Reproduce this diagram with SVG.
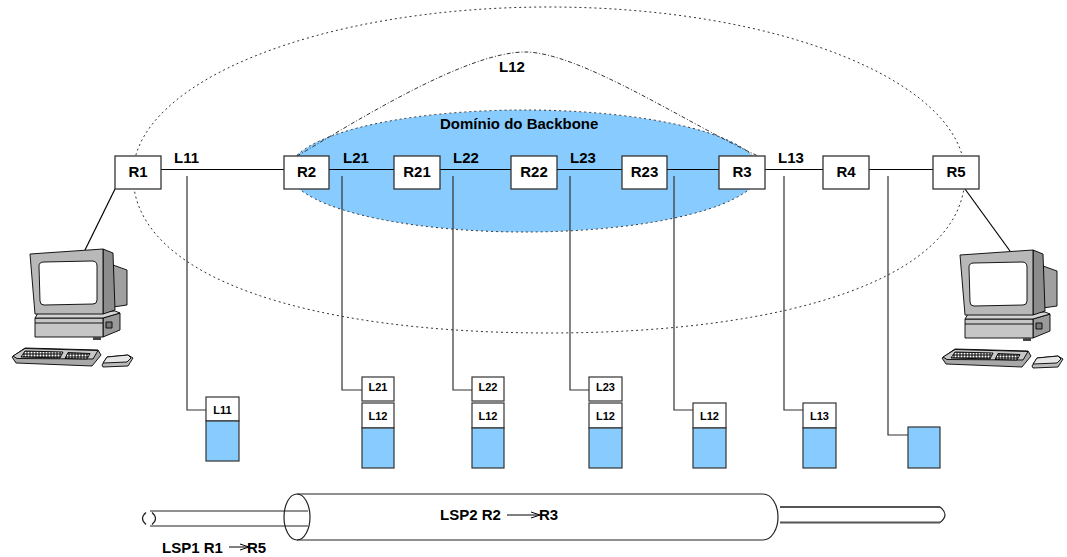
<svg xmlns="http://www.w3.org/2000/svg" width="1067" height="557" viewBox="0 0 1067 557">
  <style>
    .lbl { font-family: "Liberation Sans", Arial, sans-serif; font-weight: bold; font-size: 15px; fill: #000; }
    .tag { font-family: "Liberation Sans", Arial, sans-serif; font-weight: bold; font-size: 11px; fill: #000; text-anchor: middle; }
    .mid { text-anchor: middle; }
    .router { fill: #fff; stroke: #333; stroke-width: 1.3; }
    .link { fill: none; stroke: #000; stroke-width: 1.2; }
    .drop { fill: none; stroke: #333; stroke-width: 1.2; }
    .hdr { fill: #fff; stroke: #333; stroke-width: 1.2; }
    .payload { fill: #88ccff; stroke: #333; stroke-width: 1.2; }
    .dotted { fill: none; stroke: #333; stroke-width: 1; stroke-dasharray: 2 3; }
    .dashdot { fill: none; stroke: #333; stroke-width: 1; stroke-dasharray: 4 2 1 2; }
    .tube { fill: none; stroke: #222; stroke-width: 1.2; }
    .thin { fill: none; stroke: #555; stroke-width: 1.8; }
    .pc { stroke: #000; stroke-width: 0.9; stroke-linejoin: round; }
  </style>
  <defs>
    <marker id="head" markerWidth="10" markerHeight="8" refX="9" refY="4" orient="auto" markerUnits="userSpaceOnUse">
      <path d="M0,1 L9,4 L0,7" fill="none" stroke="#000" stroke-width="1"/>
    </marker>
    <pattern id="keys" width="3" height="3" patternUnits="userSpaceOnUse">
      <rect width="3" height="3" fill="#000"/>
      <rect x="0.5" y="0.5" width="2" height="2" fill="#fff"/>
    </pattern>
    <!-- workstation: keyboard, mouse, base unit and monitor -->
    <g id="workstation">
      <polygon class="pc" points="12,357 25,348 98,350 101,355 92,366 16,363" fill="#a8a8a8"/>
      <polygon class="pc" points="13,356 25,348.5 98,350.5 93,359 17,358.5" fill="#c8c8c8"/>
      <polygon class="pc" points="25,351 63,352 60,358 21,357" fill="url(#keys)"/>
      <polygon class="pc" points="68,352.5 90,353.5 87,359 65,358.5" fill="url(#keys)"/>
      <polygon class="pc" points="102,365 107,357 128,355 133,358 128,366 103,367" fill="#bbb"/>
      <polygon class="pc" points="103,363 107,357 128,355 131,358 127,362" fill="#e6e6e6"/>
      <polygon class="pc" points="113,265 127,270 127,305 113,307" fill="#a0a0a0"/>
      <polygon class="pc" points="103,318 120,313 120,330 103,337" fill="#9a9a9a"/>
      <rect class="pc" x="35" y="318" width="68" height="19" fill="#c6c6c6"/>
      <line class="pc" x1="35" y1="323" x2="103" y2="323"/>
      <polygon class="pc" points="35,318 38,313 115,311 120,313 103,318" fill="#d4d4d4"/>
      <rect class="pc" x="106" y="322" width="6" height="6" fill="#777"/>
      <rect x="93" y="337" width="8" height="3" fill="#444"/>
      <polygon class="pc" points="103,249 113,253 115,310 103,314" fill="#8c8c8c"/>
      <polygon class="pc" points="30,254 103,249 103,314 35,314" fill="#b8b8b8"/>
      <path class="pc" d="M44,262 L92,261 Q97,261 97,266 L97,300 Q97,304 93,304 L44,305 Q40,305 40,301 L39,266 Q39,262 44,262 Z" fill="#fff"/>
    </g>
  </defs>

  <!-- LSP1 outer region and LSP2 backbone domain -->
  <g id="lsp1-region">
    <path class="dotted" d="M133,175 C133,82 319,7 549,7 C779,7 965,82 965,175 C965,278 789,333 549,333 C309,333 133,278 133,175 Z"/>
  </g>
  <g id="backbone-domain">
    <ellipse cx="524.5" cy="171" rx="235.5" ry="61" fill="#88ccff" stroke="#333" stroke-width="1" stroke-dasharray="2 3"/>
    <text class="lbl" x="440" y="129">Domínio do Backbone</text>
  </g>
  <g id="l12-tunnel">
    <path class="dashdot" d="M297,156 C350,125 465,52 525,52 C580,52 690,125 758,156"/>
    <text class="lbl" x="499" y="72">L12</text>
  </g>

  <!-- links between routers, and label drop lines to the stacks -->
  <g id="connectors">
    <line class="link" x1="161" y1="169.5" x2="284" y2="169.5"/>
    <line class="link" x1="329" y1="169.5" x2="394" y2="169.5"/>
    <line class="link" x1="440" y1="169.5" x2="511" y2="169.5"/>
    <line class="link" x1="557" y1="169.5" x2="622" y2="169.5"/>
    <line class="link" x1="667" y1="169.5" x2="719" y2="169.5"/>
    <line class="link" x1="765" y1="169.5" x2="823" y2="169.5"/>
    <line class="link" x1="869" y1="169.5" x2="933" y2="169.5"/>
    <line class="link" x1="115" y1="189" x2="85" y2="250"/>
    <line class="link" x1="965" y1="189" x2="1010" y2="251"/>
    <polyline class="drop" points="187,176 187,410 206,410"/>
    <polyline class="drop" points="342,176 342,390 362,390"/>
    <polyline class="drop" points="453,176 453,390 472,390"/>
    <polyline class="drop" points="570,176 570,390 589,390"/>
    <polyline class="drop" points="674,176 674,410 693,410"/>
    <polyline class="drop" points="784,176 784,410 803,410"/>
    <polyline class="drop" points="888,176 888,435 908,435"/>
  </g>

  <!-- link labels -->
  <g id="link-labels" class="lbl">
    <text x="174" y="163">L11</text>
    <text x="343" y="163">L21</text>
    <text x="453" y="163">L22</text>
    <text x="570" y="163">L23</text>
    <text x="778" y="163">L13</text>
  </g>

  <!-- routers -->
  <g id="R1"><rect class="router" x="115" y="156" width="46" height="33"/><text class="lbl mid" x="138" y="177">R1</text></g>
  <g id="R2"><rect class="router" x="284" y="156" width="45" height="33"/><text class="lbl mid" x="306.5" y="177">R2</text></g>
  <g id="R21"><rect class="router" x="394" y="156" width="46" height="33"/><text class="lbl mid" x="417" y="177">R21</text></g>
  <g id="R22"><rect class="router" x="511" y="156" width="46" height="33"/><text class="lbl mid" x="534" y="177">R22</text></g>
  <g id="R23"><rect class="router" x="622" y="156" width="45" height="33"/><text class="lbl mid" x="644.5" y="177">R23</text></g>
  <g id="R3"><rect class="router" x="719" y="156" width="46" height="33"/><text class="lbl mid" x="742" y="177">R3</text></g>
  <g id="R4"><rect class="router" x="823" y="156" width="46" height="33"/><text class="lbl mid" x="846" y="177">R4</text></g>
  <g id="R5"><rect class="router" x="933" y="156" width="46" height="33"/><text class="lbl mid" x="956" y="177">R5</text></g>

  <!-- hosts -->
  <g id="host-left"><use href="#workstation"/></g>
  <g id="host-right"><use href="#workstation" transform="translate(930,1)"/></g>

  <!-- label stacks on each hop -->
  <g id="stack-l11">
    <rect class="hdr" x="206" y="397" width="33" height="24"/><text class="tag" x="222.5" y="413.5">L11</text>
    <rect class="payload" x="206" y="421" width="33" height="40"/>
  </g>
  <g id="stack-l21">
    <rect class="hdr" x="362" y="377" width="32" height="24"/><text class="tag" x="378" y="391">L21</text>
    <rect class="hdr" x="362" y="403" width="32" height="25"/><text class="tag" x="378" y="420">L12</text>
    <rect class="payload" x="362" y="428" width="32" height="40"/>
  </g>
  <g id="stack-l22">
    <rect class="hdr" x="472" y="377" width="32" height="24"/><text class="tag" x="488" y="391">L22</text>
    <rect class="hdr" x="472" y="403" width="32" height="25"/><text class="tag" x="488" y="420">L12</text>
    <rect class="payload" x="472" y="428" width="32" height="40"/>
  </g>
  <g id="stack-l23">
    <rect class="hdr" x="589" y="377" width="33" height="24"/><text class="tag" x="605.5" y="391">L23</text>
    <rect class="hdr" x="589" y="403" width="33" height="25"/><text class="tag" x="605.5" y="420">L12</text>
    <rect class="payload" x="589" y="428" width="33" height="40"/>
  </g>
  <g id="stack-l12">
    <rect class="hdr" x="693" y="403" width="33" height="25"/><text class="tag" x="709.5" y="420">L12</text>
    <rect class="payload" x="693" y="428" width="33" height="40"/>
  </g>
  <g id="stack-l13">
    <rect class="hdr" x="803" y="403" width="33" height="25"/><text class="tag" x="819.5" y="420">L13</text>
    <rect class="payload" x="803" y="428" width="33" height="40"/>
  </g>
  <g id="stack-plain">
    <rect class="payload" x="908" y="427" width="32" height="41"/>
  </g>

  <!-- LSP tunnels -->
  <g id="lsp2-tube">
    <path class="tube" d="M297,494 L763,494 A15,23 0 0 1 763,540 L297,540"/>
    <ellipse class="tube" cx="297" cy="517" rx="13" ry="23"/>
    <text class="lbl" x="440" y="520">LSP2 R2</text>
    <line x1="507" y1="515" x2="540" y2="515" stroke="#000" stroke-width="1" marker-end="url(#head)"/>
    <text class="lbl" x="539" y="520">R3</text>
  </g>
  <g id="lsp1-tube">
    <line class="tube" x1="150" y1="511" x2="308" y2="511"/>
    <line class="tube" x1="150" y1="526" x2="308" y2="526"/>
    <path class="tube" d="M146,512.5 Q139,518.5 146,524.5 M152,512.5 Q159,518.5 152,524.5"/>
    <line class="thin" x1="780" y1="507" x2="940" y2="507"/>
    <line class="thin" x1="780" y1="522.5" x2="940" y2="522.5"/>
    <path class="tube" d="M940,507 Q950,514.75 940,522.5"/>
    <text class="lbl" x="162" y="553">LSP1 R1</text>
    <line x1="229" y1="547" x2="249" y2="547" stroke="#000" stroke-width="1" marker-end="url(#head)"/>
    <text class="lbl" x="247" y="553">R5</text>
  </g>
</svg>
